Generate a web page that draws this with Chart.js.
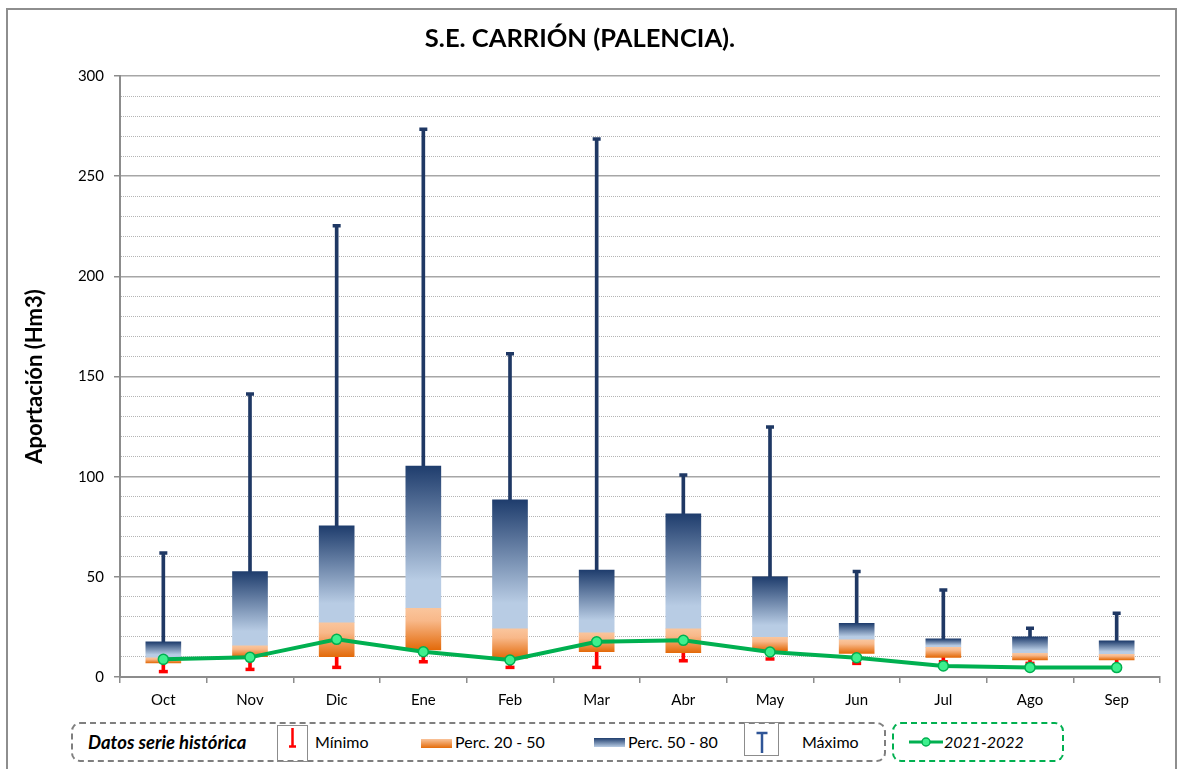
<!DOCTYPE html>
<html>
<head>
<meta charset="utf-8">
<script src="https://cdn.jsdelivr.net/npm/chart.js@4.4.1/dist/chart.umd.min.js"></script>
<style>
html,body{margin:0;padding:0;width:1179px;height:769px;overflow:hidden;background:#fff;font-family:Lato,"Open Sans",sans-serif;}
#frame{position:absolute;left:6px;top:8px;width:1171px;height:790px;border:2px solid #8e8e8e;box-sizing:border-box;}
#wrap{position:absolute;left:0;top:0;width:1179px;height:715px;}
.dbox{position:absolute;box-sizing:border-box;border-radius:9px;border:2.5px dashed #7f7f7f;}
.t{position:absolute;top:731px;line-height:22px;font-size:16px;color:#000;white-space:nowrap;}
.ico{position:absolute;}
</style>
</head>
<body>
<div id="frame"></div>
<div id="wrap"><canvas id="c" width="1179" height="715"></canvas></div>

<div class="dbox" style="left:71px;top:722px;width:815px;height:40px;"></div>
<span class="t" style="left:88px;font-weight:bold;font-style:italic;font-size:18.5px;">Datos serie histórica</span>
<svg class="ico" style="left:277px;top:725px" width="32" height="37">
  <rect x="0.5" y="0.5" width="30" height="36" fill="none" stroke="#8c8c8c" stroke-width="1"/>
  <line x1="15.5" y1="3" x2="15.5" y2="21" stroke="#ff0000" stroke-width="2.5"/>
  <line x1="12" y1="21.5" x2="19" y2="21.5" stroke="#ff0000" stroke-width="2.5"/>
</svg>
<span class="t" style="left:315px;">Mínimo</span>
<svg class="ico" style="left:421px;top:739px" width="32" height="10">
  <defs><linearGradient id="go" x1="0" y1="0" x2="0" y2="1"><stop offset="0" stop-color="#f9c39a"/><stop offset="1" stop-color="#e46c0a"/></linearGradient></defs>
  <rect x="0" y="0" width="31" height="9" fill="url(#go)"/>
</svg>
<span class="t" style="left:455px;">Perc. 20 - 50</span>
<svg class="ico" style="left:594px;top:738px" width="32" height="10">
  <defs><linearGradient id="gb" x1="0" y1="0" x2="0" y2="1"><stop offset="0" stop-color="#1f3d6d"/><stop offset="1" stop-color="#b8cce4"/></linearGradient></defs>
  <rect x="0" y="0" width="31" height="9" fill="url(#gb)"/>
</svg>
<span class="t" style="left:628px;">Perc. 50 - 80</span>
<svg class="ico" style="left:744px;top:722px" width="36" height="35">
  <rect x="0.5" y="0.5" width="34" height="33" fill="none" stroke="#8c8c8c" stroke-width="1"/>
  <line x1="18" y1="11" x2="18" y2="31" stroke="#2f5597" stroke-width="2.5"/>
  <line x1="12.5" y1="11" x2="23.5" y2="11" stroke="#2f5597" stroke-width="2.5"/>
</svg>
<span class="t" style="left:802px;">Máximo</span>
<div class="dbox" style="left:892px;top:722px;width:172px;height:40px;border-color:#00b050;"></div>
<svg class="ico" style="left:908px;top:736px" width="36" height="12">
  <line x1="1" y1="6" x2="35" y2="6" stroke="#00b050" stroke-width="3"/>
  <circle cx="18" cy="6" r="4" fill="#3ef08e" stroke="#00b050" stroke-width="1.5"/>
</svg>
<span class="t" style="left:944px;font-style:italic;">2021-2022</span>

<script>
// ---- Data ----
const categories = ['Oct','Nov','Dic','Ene','Feb','Mar','Abr','May','Jun','Jul','Ago','Sep'];
const minimo  = [2.7, 3.8, 4.8, 7.6, 4.8, 4.8, 8.1, 9.0, 6.8, 7.6, 6.8, 5.5];
const perc20  = [7.0, 10.1, 10.1, 13.5, 9.3, 12.6, 12.1, 13.1, 11.8, 9.8, 8.5, 8.5];
const perc50  = [9.6, 15.5, 27.1, 34.3, 24.0, 22.1, 24.0, 19.8, 18.5, 14.8, 11.8, 11.3];
const perc80  = [17.5, 52.6, 75.4, 105.3, 88.4, 53.4, 81.4, 50.0, 26.8, 19.0, 20.0, 18.0];
const maximo  = [61.9, 141.3, 225.2, 273.4, 161.3, 268.6, 100.8, 124.8, 52.6, 43.4, 24.3, 31.8];
const serie2122 = [8.8, 9.8, 18.8, 12.6, 8.5, 17.6, 18.3, 12.5, 9.6, 5.5, 4.8, 4.7];
const yMin = 0, yMax = 300, yStep = 10, yLabelStep = 50;

Chart.defaults.font.family = 'Lato, "Open Sans", sans-serif';
Chart.defaults.color = '#000';

function vertGrad(ctx, stops, fallback) {
  const chart = ctx.chart, y = chart.scales && chart.scales.y;
  if (!ctx.raw || !y || !Array.isArray(ctx.raw)) return fallback;
  const top = y.getPixelForValue(Math.max(ctx.raw[0], ctx.raw[1]));
  const bot = y.getPixelForValue(Math.min(ctx.raw[0], ctx.raw[1]));
  if (!isFinite(top) || !isFinite(bot) || bot - top < 0.5) return fallback;
  const g = chart.ctx.createLinearGradient(0, top, 0, bot);
  stops.forEach(s => g.addColorStop(s[0], s[1]));
  return g;
}
const orangeStops = [[0,'#fac59c'],[0.3,'#f8b889'],[1,'#e36a0a']];
const blueStops = [[0,'#1f3d6d'],[0.8,'#b8cce4'],[1,'#b8cce4']];
const isMajor = c => c.tick && Math.round(c.tick.value) % yLabelStep === 0;

new Chart(document.getElementById('c'), {
  type: 'bar',
  data: {
    labels: categories,
    datasets: [
      { type:'line', label:'2021-2022', data: serie2122, borderColor:'#00b050', borderWidth:4,
        pointRadius:5, pointBackgroundColor:'#3ef08e', pointBorderColor:'#00b050', pointBorderWidth:1.5,
        tension:0, order:0 },
      { type:'line', label:'Máximo cap', data: maximo, showLine:false, pointStyle:'line',
        pointRadius:4, pointBorderWidth:3.5, pointBorderColor:'#1f3864', order:1 },
      { type:'line', label:'Mínimo cap', data: minimo, showLine:false, pointStyle:'line',
        pointRadius:4.5, pointBorderWidth:3.5, pointBorderColor:'#ff0000', order:1 },
      { label:'Perc. 20 - 50', data: perc20.map((v,i)=>[v, perc50[i]]), grouped:false, barThickness:35,
        backgroundColor: c => vertGrad(c, orangeStops, '#f4a46a'), borderWidth:0, order:2 },
      { label:'Perc. 50 - 80', data: perc50.map((v,i)=>[v, perc80[i]]), grouped:false, barThickness:35,
        backgroundColor: c => vertGrad(c, blueStops, '#8ea9cf'), borderWidth:0, order:2 },
      { label:'Máximo', data: perc80.map((v,i)=>[v, maximo[i]]), grouped:false, barThickness:3,
        backgroundColor:'#1f3864', order:3 },
      { label:'Mínimo', data: minimo.map((v,i)=>[v, perc20[i]]), grouped:false, barThickness:3,
        backgroundColor:'#ff0000', order:3 }
    ]
  },
  options: {
    responsive:false, animation:false,
    layout:{ padding:{ left:0, right:19, top:0, bottom:0 } },
    plugins:{
      legend:{ display:false }, tooltip:{ enabled:false },
      title:{ display:true, text:'S.E. CARRIÓN (PALENCIA).', color:'#000',
        font:{ size:25.5, weight:'bold' }, padding:{ top:23.7, bottom:21.7 } }
    },
    scales:{
      x:{
        offset:true,
        grid:{ offset:true, drawOnChartArea:false, tickLength:6, color:'#8c8c8c', tickColor:'#8c8c8c', lineWidth:1.5 },
        border:{ color:'#8c8c8c', width:2 },
        ticks:{ color:'#000', font:{ size:15 }, padding:8 },
        afterFit: s => { s.height = 38; }
      },
      y:{
        min:yMin, max:yMax,
        ticks:{ stepSize:yStep, autoSkip:false, padding:10, color:'#000', font:{ size:15 },
          callback: v => (Math.round(v) % yLabelStep === 0 ? String(Math.round(v)) : '') },
        grid:{
          color: c => isMajor(c) ? '#a6a6a6' : '#b4b4b4',
          lineWidth: c => isMajor(c) ? 1.5 : 1,
          tickLength:6,
          tickColor: c => isMajor(c) ? '#8c8c8c' : 'rgba(0,0,0,0)'
        },
        border:{ color:'#8c8c8c', width:2, dash: c => (c.tick && !isMajor(c)) ? [1,1] : [] },
        title:{ display:true, text:'Aportación (Hm3)', color:'#000',
          font:{ size:22, weight:'bold' }, padding:{ top:21.8, bottom:0 } },
        afterFit: s => { s.width = 120; }
      }
    }
  }
});
</script>
</body>
</html>
